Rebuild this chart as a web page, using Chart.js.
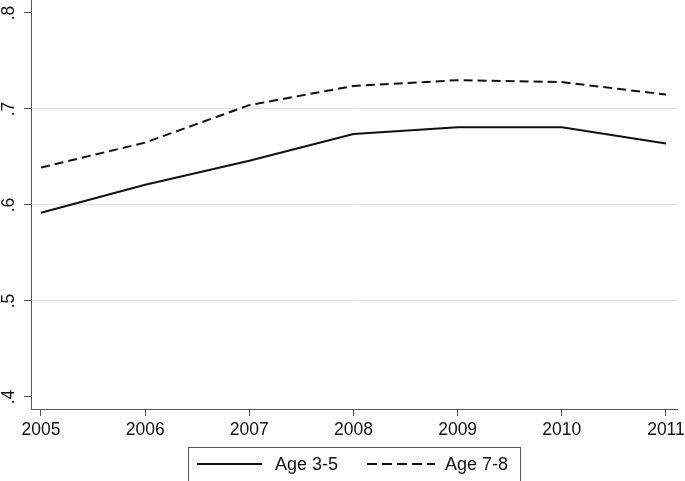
<!DOCTYPE html>
<html>
<head>
<meta charset="utf-8">
<script src="https://cdn.jsdelivr.net/npm/chart.js@4"></script>
<style>
    html, body { margin: 0; padding: 0; background: #fff; }
</style>
</head>
<body>
<canvas id="myChart" width="685" height="481"></canvas>
<script>
const years = [2005, 2006, 2007, 2008, 2009, 2010, 2011];
const age35 = [0.592, 0.621, 0.646, 0.674, 0.681, 0.681, 0.664];
const age78 = [0.639, 0.665, 0.704, 0.724, 0.730, 0.728, 0.715];
const seriesNames = ['Age 3-5', 'Age 7-8'];
const yTicks = [0.4, 0.5, 0.6, 0.7, 0.8];
const yTickLabels = ['.4', '.5', '.6', '.7', '.8'];
const gridVals = [0.5, 0.6, 0.7];

Chart.defaults.font.family = '"Liberation Sans", Arial, sans-serif';
Chart.defaults.color = '#111';

const axisColor = '#555';

// legend drawn by hand, Stata style: framed box under the plot
const legendBox = {
    id: 'legendBox',
    afterDraw(chart) {
        const c = chart.ctx;
        c.save();
        c.strokeStyle = axisColor;
        c.lineWidth = 1;
        c.strokeRect(188.5, 447.5, 332, 40);

        c.strokeStyle = '#111';
        c.lineWidth = 2;
        c.beginPath();
        c.moveTo(197, 464);
        c.lineTo(262, 464);
        c.stroke();
        c.setLineDash([10, 5]);
        c.beginPath();
        c.moveTo(367, 464);
        c.lineTo(435, 464);
        c.stroke();
        c.setLineDash([]);

        c.fillStyle = '#111';
        c.font = '18px "Liberation Sans", Arial, sans-serif';
        c.textBaseline = 'middle';
        c.textAlign = 'left';
        c.fillText(seriesNames[0], 275, 465);
        c.fillText(seriesNames[1], 445, 465);
        c.restore();
    }
};

const ctx = document.getElementById('myChart');
const myChart = new Chart(ctx, {
    type: 'line',
    data: {
        datasets: [{
                label: seriesNames[0],
                data: years.map((x, i) => ({ x: x, y: age35[i] })),
                borderColor: '#111',
                borderWidth: 2,
                pointRadius: 0,
                tension: 0
            },
            {
                label: seriesNames[1],
                data: years.map((x, i) => ({ x: x, y: age78[i] })),
                borderColor: '#111',
                borderWidth: 2,
                borderDash: [9, 5],
                pointRadius: 0,
                tension: 0
            }
        ]
    },
    options: {
        responsive: false,
        animation: false,
        layout: {
            padding: { top: 0, right: 8, bottom: 0, left: 0 }
        },
        plugins: {
            legend: { display: false },
            tooltip: { enabled: false }
        },
        scales: {
            x: {
                type: 'linear',
                min: 2004.904,
                max: 2011.106,
                afterBuildTicks: scale => {
                    scale.ticks = years.map(v => ({ value: v }));
                },
                afterFit: scale => {
                    scale.height = 72;
                    scale.paddingLeft = 0;
                    scale.paddingRight = 0;
                },
                grid: {
                    drawOnChartArea: false,
                    tickLength: 7,
                    tickColor: axisColor
                },
                border: { color: axisColor, width: 1 },
                ticks: {
                    padding: 4,
                    maxRotation: 0,
                    font: { size: 17.5 },
                    callback: v => String(v)
                }
            },
            y: {
                min: 0.3875,
                max: 0.8135,
                afterBuildTicks: scale => {
                    scale.ticks = yTicks.map(v => ({ value: v }));
                },
                afterFit: scale => {
                    scale.width = 31;
                    scale.paddingTop = 0;
                    scale.paddingBottom = 0;
                },
                grid: {
                    color: c => (c.tick && gridVals.includes(c.tick.value)) ? '#e2e2e2' : 'rgba(0,0,0,0)',
                    tickLength: 7,
                    tickColor: axisColor
                },
                border: { color: axisColor, width: 1 },
                ticks: {
                    minRotation: 90,
                    maxRotation: 90,
                    crossAlign: 'center',
                    padding: 8,
                    font: { size: 17.5 },
                    callback: v => yTickLabels[yTicks.indexOf(v)]
                }
            }
        }
    },
    plugins: [legendBox]
});
</script>
</body>
</html>
